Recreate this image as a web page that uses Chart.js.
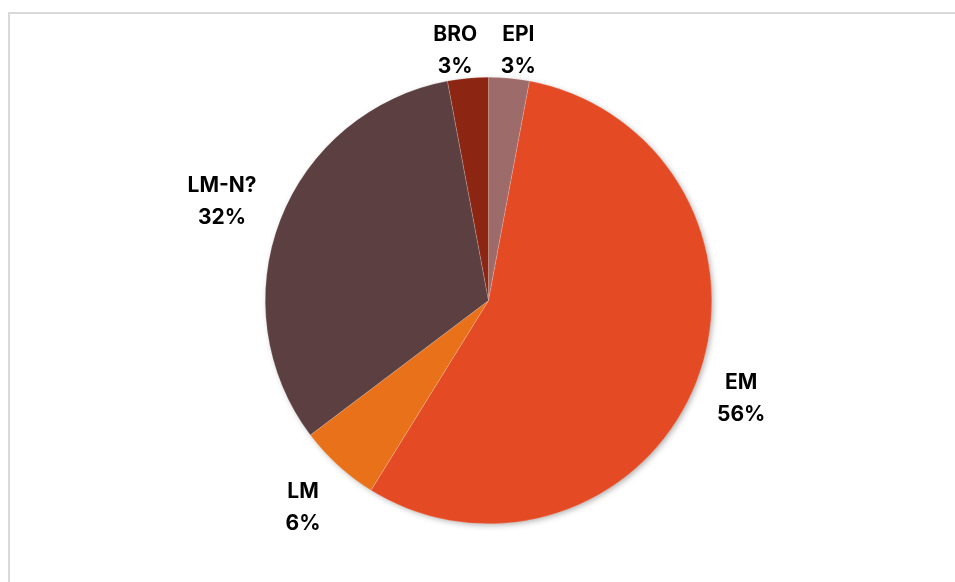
<!DOCTYPE html>
<html>
<head>
<meta charset="utf-8">
<script src="https://cdn.jsdelivr.net/npm/chart.js@4.4.1/dist/chart.umd.min.js"></script>
<style>
  html, body { margin: 0; padding: 0; background: #fff; overflow: hidden; }
  #frame {
    position: absolute; left: 8px; top: 12px; width: 946px; height: 600px;
    border-top: 2px solid #d9d9d9; border-left: 2px solid #d9d9d9;
  }
  #wrap { position: absolute; left: 0; top: 0; width: 955px; height: 582px; }
</style>
</head>
<body>
<div id="frame"></div>
<div id="wrap"><canvas id="pie"></canvas></div>
<script>
  // counts per category (clockwise from 12 o'clock)
  const LABELS = ['EPI', 'EM', 'LM', 'LM-N?', 'BRO'];
  const VALUES = [1, 19, 2, 11, 1];
  const COLORS = ['#9e6b6b', '#e44a24', '#e8711a', '#5c3f41', '#8c2613'];

  // label placement: distance of label centre from pie centre, small angle nudge (deg)
  const LABEL_POS = {
    'EPI':   { dist: 252, nudge: 1.5 },
    'EM':    { dist: 271, nudge: 0 },
    'LM':    { dist: 278, nudge: -0.5 },
    'LM-N?': { dist: 284, nudge: -0.9 },
    'BRO':   { dist: 252, nudge: -2.3 }
  };

  const shadowPlugin = {
    id: 'pieShadow',
    beforeDatasetsDraw(chart) {
      const arc = chart.getDatasetMeta(0).data[0];
      if (!arc) return;
      const p = arc.getProps(['x', 'y', 'outerRadius'], true);
      const ctx = chart.ctx;
      ctx.save();
      ctx.shadowColor = 'rgba(0,0,0,0.35)';
      ctx.shadowBlur = 6;
      ctx.shadowOffsetX = 2;
      ctx.shadowOffsetY = 2;
      ctx.fillStyle = '#ffffff';
      ctx.beginPath();
      ctx.arc(p.x, p.y, p.outerRadius - 1, 0, Math.PI * 2);
      ctx.fill();
      ctx.restore();
    }
  };

  const labelPlugin = {
    id: 'outsideLabels',
    afterDatasetsDraw(chart) {
      const ctx = chart.ctx;
      const data = chart.data.datasets[0].data;
      const total = data.reduce(function (a, b) { return a + b; }, 0);
      ctx.save();
      ctx.font = '700 21px Inter, "Open Sans", sans-serif';
      ctx.fillStyle = '#000000';
      ctx.textAlign = 'center';
      ctx.textBaseline = 'middle';
      chart.getDatasetMeta(0).data.forEach(function (arc, i) {
        const p = arc.getProps(['x', 'y', 'startAngle', 'endAngle'], true);
        const name = chart.data.labels[i];
        const pos = LABEL_POS[name];
        const a = (p.startAngle + p.endAngle) / 2 + pos.nudge * Math.PI / 180;
        const cx = p.x + Math.cos(a) * pos.dist;
        const cy = p.y + Math.sin(a) * pos.dist;
        const pct = Math.round(data[i] / total * 100) + '%';
        ctx.fillText(name, cx, cy - 16);
        ctx.fillText(pct, cx, cy + 16);
      });
      ctx.restore();
    }
  };

  new Chart(document.getElementById('pie'), {
    type: 'pie',
    data: {
      labels: LABELS,
      datasets: [{
        data: VALUES,
        backgroundColor: COLORS,
        borderColor: 'rgba(255,255,255,0.35)',
        borderWidth: 0.5
      }]
    },
    options: {
      responsive: true,
      maintainAspectRatio: false,
      animation: false,
      layout: { padding: { left: 265, right: 243, top: 77, bottom: 58 } },
      plugins: {
        legend: { display: false },
        tooltip: { enabled: false }
      }
    },
    plugins: [shadowPlugin, labelPlugin]
  });
</script>
</body>
</html>
